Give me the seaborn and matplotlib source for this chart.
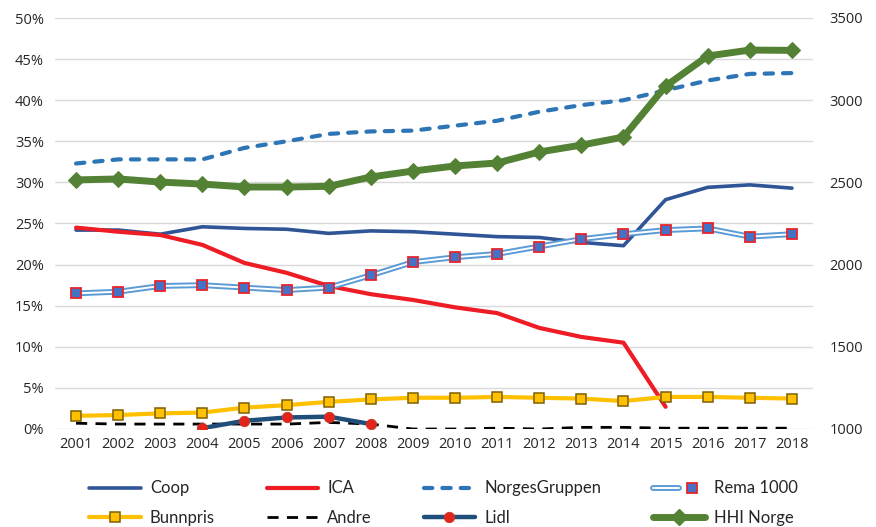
import numpy as np
import pandas as pd
import seaborn as sns
import matplotlib
matplotlib.use("Agg")
import matplotlib.pyplot as plt
from matplotlib.lines import Line2D
from matplotlib.legend_handler import HandlerTuple
import matplotlib.patheffects as pe

years = [str(y) for y in range(2001, 2019)]
coop = [24.2, 24.2, 23.7, 24.6, 24.4, 24.3, 23.8, 24.1, 24.0, 23.7, 23.4, 23.3, 22.7, 22.3, 27.9, 29.4, 29.7, 29.3]
ica = [24.5, 24.0, 23.6, 22.4, 20.2, 19.0, 17.4, 16.4, 15.7, 14.8, 14.1, 12.3, 11.2, 10.5, 2.7, np.nan, np.nan, np.nan]
norgesgruppen = [32.3, 32.8, 32.8, 32.8, 34.2, 35.0, 35.9, 36.2, 36.3, 36.9, 37.5, 38.6, 39.4, 40.0, 41.2, 42.4, 43.2, 43.3]
rema = [16.5, 16.7, 17.4, 17.5, 17.2, 16.9, 17.2, 18.7, 20.3, 20.9, 21.3, 22.2, 23.1, 23.7, 24.2, 24.4, 23.4, 23.7]
bunnpris = [1.6, 1.7, 1.9, 2.0, 2.6, 2.9, 3.3, 3.6, 3.8, 3.8, 3.9, 3.8, 3.7, 3.4, 3.9, 3.9, 3.8, 3.7]
andre = [0.7, 0.6, 0.6, 0.6, 0.6, 0.6, 0.8, 0.6, 0.0, 0.0, 0.1, 0.0, 0.2, 0.2, 0.1, 0.1, 0.1, 0.1]
lidl = [np.nan, np.nan, np.nan, 0.1, 1.0, 1.4, 1.5, 0.6, np.nan, np.nan, np.nan, np.nan, np.nan, np.nan, np.nan, np.nan, np.nan, np.nan]
hhi = [2515, 2521, 2502, 2490, 2472, 2472, 2476, 2533, 2569, 2600, 2618, 2685, 2727, 2776, 3086, 3269, 3305, 3303]

sns.set_theme(style="white")
plt.rcParams["font.family"] = ["Open Sans", "DejaVu Sans"]
TXT = "#262626"

fig = plt.figure(figsize=(8.76, 5.27), dpi=100)
ax = fig.add_axes([55/876, 1-429/527, (813-55)/876, (429-18)/527])
ax2 = ax.twinx()

x = np.arange(len(years))

C_COOP = "#2F5597"
C_ICA = "#EE1C25"
C_NG = "#2E75B6"
C_REMA = "#5B9BD5"
C_REMA_M = "#4472C4"
C_BP = "#FFC000"
C_BP_E = "#7F6000"
C_LIDL = "#1F4E79"
C_LIDL_M = "#E3241B"
C_HHI = "#548235"

sns.lineplot(x=x, y=coop, ax=ax, color=C_COOP, lw=2.6, solid_capstyle="round")
sns.lineplot(x=x, y=ica, ax=ax, color=C_ICA, lw=3.0, solid_capstyle="round")
sns.lineplot(x=x, y=norgesgruppen, ax=ax, color=C_NG, lw=3.0,
             linestyle=(0, (2.0, 2.4)), dash_capstyle="round")
rema_pe = [pe.Stroke(linewidth=4.2, foreground=C_REMA), pe.Normal()]
sns.lineplot(x=x, y=rema, ax=ax, color="white", lw=1.4, path_effects=rema_pe)
sns.lineplot(x=x, y=rema, ax=ax, color=C_REMA_M, lw=0, marker="s", markersize=7.2,
             markeredgecolor="#E8242C", markeredgewidth=1.3)
sns.lineplot(x=x, y=bunnpris, ax=ax, color=C_BP, lw=3.0, marker="s", markersize=7.5,
             markerfacecolor=C_BP, markeredgecolor=C_BP_E, markeredgewidth=1.1)
sns.lineplot(x=x, y=andre, ax=ax, color="black", lw=2.0, linestyle=(0, (4, 3)))
sns.lineplot(x=x, y=lidl, ax=ax, color=C_LIDL, lw=3.2, marker="o", markersize=7.5,
             markerfacecolor=C_LIDL_M, markeredgecolor="#C0392B", markeredgewidth=0.6)
sns.lineplot(x=x, y=hhi, ax=ax2, color=C_HHI, lw=5.0, marker="D", markersize=8.5,
             markeredgecolor=C_HHI, solid_capstyle="round")

ax.set_xlim(-0.5, len(years) - 0.5)
ax.set_ylim(0, 50)
ax2.set_ylim(1000, 3500)
ax.set_yticks(np.arange(0, 51, 5))
ax.set_yticklabels([f"{v}%" for v in range(0, 51, 5)])
ax2.set_yticks(np.arange(1000, 3501, 500))
ax.set_xticks(x)
ax.set_xticklabels(years)
ax.grid(axis="y", color="#D9D9D9", lw=1.0)
ax.set_axisbelow(True)
ax2.grid(False)
for a in (ax, ax2):
    for s in a.spines.values():
        s.set_visible(False)
    a.set_xlabel("")
    a.set_ylabel("")
ax.tick_params(axis="y", labelsize=10.5, colors=TXT, pad=8, length=0)
ax.tick_params(axis="x", labelsize=10.5, colors=TXT, pad=6, length=0)
ax2.tick_params(axis="y", labelsize=10.5, colors=TXT, pad=12, length=0)
if ax.get_legend():
    ax.get_legend().remove()
if ax2.get_legend():
    ax2.get_legend().remove()

h_coop = Line2D([], [], color=C_COOP, lw=2.6)
h_ica = Line2D([], [], color=C_ICA, lw=3.0)
h_ng = Line2D([], [], color=C_NG, lw=3.0, linestyle=(0, (2.0, 2.4)), dash_capstyle="round")
h_rema_l = Line2D([], [], color="white", lw=1.4, path_effects=rema_pe)
h_rema_m = Line2D([], [], color=C_REMA_M, lw=0, marker="s", markersize=7.2,
                  markeredgecolor="#E8242C", markeredgewidth=1.3)
h_bp = Line2D([], [], color=C_BP, lw=3.0, marker="s", markersize=7.5,
              markerfacecolor=C_BP, markeredgecolor=C_BP_E, markeredgewidth=1.1)
h_andre = Line2D([], [], color="black", lw=2.0, linestyle=(0, (4, 3)))
h_lidl = Line2D([], [], color=C_LIDL, lw=3.2, marker="o", markersize=7.5,
                markerfacecolor=C_LIDL_M, markeredgecolor="#C0392B", markeredgewidth=0.6)
h_hhi = Line2D([], [], color=C_HHI, lw=5.0, marker="D", markersize=8.5, markeredgecolor=C_HHI)

handles = [h_coop, h_bp, h_ica, h_andre, h_ng, h_lidl, (h_rema_l, h_rema_m), h_hhi]
labels = ["Coop", "Bunnpris", "ICA", "Andre", "NorgesGruppen", "Lidl", "Rema 1000", "HHI Norge"]
fig.legend(handles, labels, ncol=4, loc="center left", bbox_to_anchor=(89/876, 1-503/527),
           frameon=False, prop={"family": ["Lato", "DejaVu Sans"], "size": 12},
           handlelength=3.1, handletextpad=0.55, columnspacing=3.1, labelspacing=0.8,
           borderpad=0, borderaxespad=0,
           handler_map={tuple: HandlerTuple(ndivide=None)}, labelcolor=TXT)

fig.savefig("out.png", dpi=100)
